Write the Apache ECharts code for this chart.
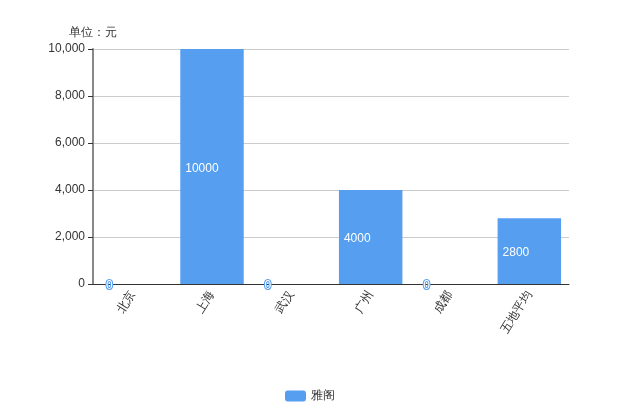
<!DOCTYPE html>
<html><head><meta charset="utf-8">
<script src="https://cdn.jsdelivr.net/npm/echarts@6/dist/echarts.min.js"></script>
<style>html,body{margin:0;padding:0;}#c{width:620px;height:413px;}</style>
</head><body><div id="c"></div>
<script>
const categories = ['北京', '上海', '武汉', '广州', '成都', '五地平均'];
const values = [0, 10000, 0, 4000, 0, 2800];
const seriesName = '雅阁';
const yName = '单位：元';

const chart = echarts.init(document.getElementById('c'));
chart.setOption({
  animation: false,
  legend: { bottom: 6, left: 'center', itemWidth: 21, itemHeight: 11, data: [seriesName], textStyle: { color: '#333', fontSize: 12 } },
  grid: { left: 93, right: 51, top: 49, bottom: 129 },
  xAxis: {
    type: 'category', data: categories,
    axisLine: { lineStyle: { color: '#333' } },
    axisTick: { show: false },
    axisLabel: { rotate: 58, color: '#333', fontSize: 12, interval: 0 }
  },
  yAxis: {
    type: 'value', name: yName, nameGap: 10, min: 0, max: 10000, interval: 2000,
    nameTextStyle: { color: '#333', fontSize: 12 },
    axisLine: { show: true, lineStyle: { color: '#888', width: 2 } },
    axisTick: { show: true, lineStyle: { color: '#333' } },
    axisLabel: { color: '#333', fontSize: 12 },
    splitLine: { lineStyle: { color: '#ccc' } }
  },
  series: [{
    name: seriesName, type: 'bar', data: values, barWidth: '80%',
    itemStyle: { color: '#559ef0' },
    label: { show: true, position: 'insideLeft', fontSize: 12, color: '#fff', textBorderColor: '#559ef0', textBorderWidth: 2, offset: [0, 2] }
  }]
});
</script></body></html>
